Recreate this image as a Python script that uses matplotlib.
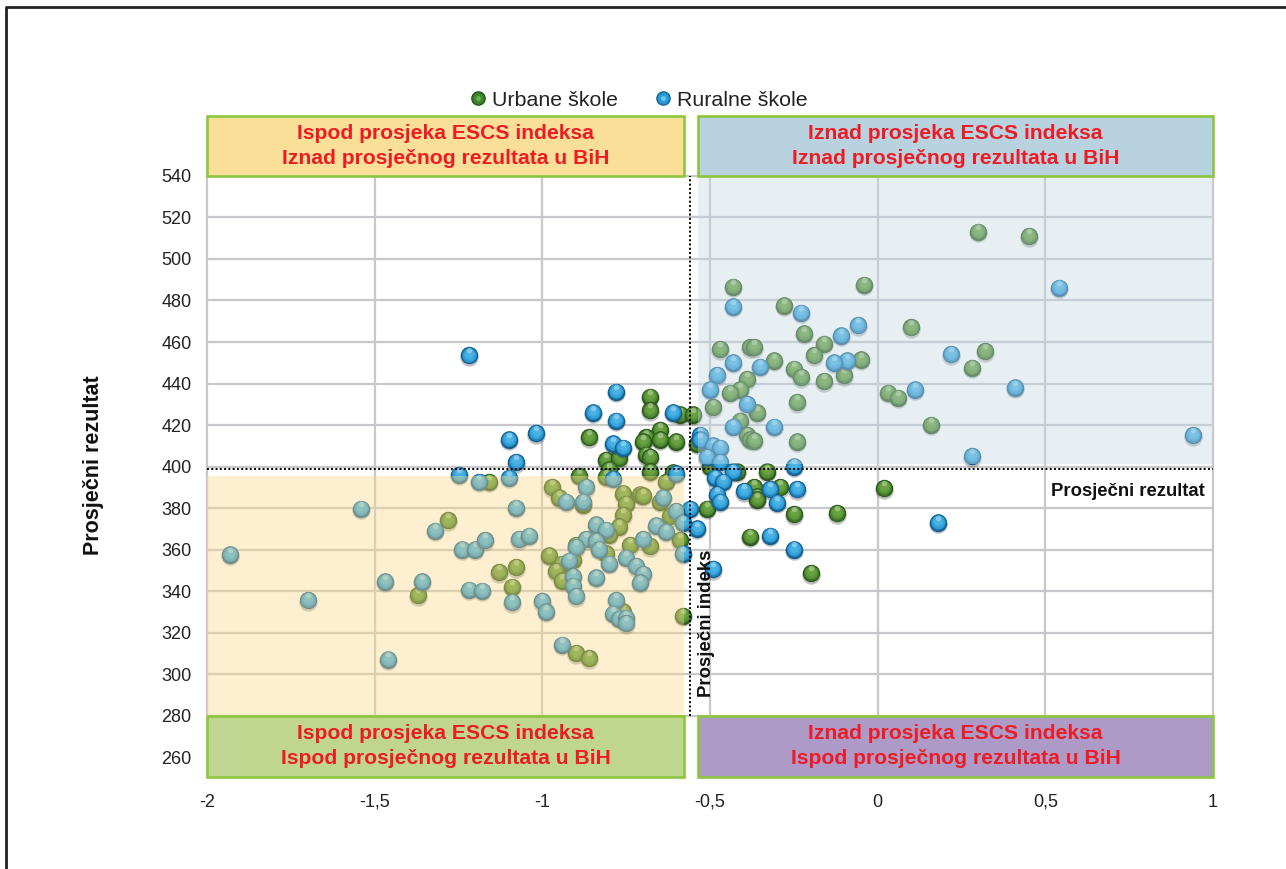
import numpy as np
import matplotlib
matplotlib.use("Agg")
import matplotlib.pyplot as plt
from matplotlib.lines import Line2D
from matplotlib.patches import Rectangle
from matplotlib.transforms import ScaledTranslation
from matplotlib.colors import to_rgb
from matplotlib.legend_handler import HandlerTuple

plt.rcParams['font.family'] = ['Liberation Sans', 'DejaVu Sans']

urban_x = [0.30,0.45,-0.04,-0.43,-0.28,0.10,-0.22,-0.16,-0.47,-0.38,-0.37,-0.31,-0.19,-0.05,0.32,0.28,-0.25,-0.23,-0.39,-0.16,-0.10,-0.41,-0.44,-0.24,0.03,0.06,-0.49,-0.36,-0.41,0.16,-0.39,-0.38,-0.37,-0.24,
 -0.68,-0.68,-0.59,-0.55,-0.65,-0.69,-0.70,-0.65,-0.60,-0.86,-0.54,-0.81,-0.77,-0.69,-0.68,-0.80,-0.68,-0.61,-0.89,-0.81,-0.50,-0.42,-0.33,-0.51,-0.37,-0.36,-0.36,-0.29,-0.25,-0.38,-0.12,0.02,-0.20,
 -1.16,-1.28,-1.13,-1.08,-1.09,-1.37,-0.97,-0.95,-0.88,-0.76,-0.75,-0.76,-0.77,-0.71,-0.70,-0.63,-0.65,-0.62,-0.59,-0.74,-0.68,-0.80,-0.90,-0.81,-0.98,-0.91,-0.94,-0.96,-0.94,-0.76,-0.58,-0.90,-0.86]
urban_y = [513,511,487.5,486.5,477.5,467,464,459,456.5,457.5,457.5,451,453.5,451.5,455.5,447.5,447,443,442,441,444,437,435.5,431,435.5,433,428.5,426,422,420,415,413,412.5,412,
 433.5,427,425,425,417.5,414,412,413,412,414,411,403,404,405.5,404.5,398.5,397.5,397,395.5,395,400,397.5,397.5,379.5,390,385.5,384,390,377,366,377.5,389.5,348.5,
 392.5,374,349,351.5,342,338,390,385,381.5,387,382,376.5,371,386.5,386,392.5,383,376,364.5,362,361.5,367,362,358,357,355,353,349.5,345,330,328,310,307.5]

rural_x = [0.94,0.54,0.41,0.28,0.22,0.11,0.18,-0.06,-0.11,-0.09,-0.13,-0.23,-0.43,-0.43,-0.48,-0.35,-0.50,-0.39,-0.31,-0.43,-0.25,
 -0.78,-0.85,-0.78,-0.61,-1.10,-1.02,-1.08,-0.79,-0.76,-0.53,-0.53,-0.49,-0.47,-0.51,-0.47,-0.43,-0.485,-0.46,-0.48,-0.47,-0.40,-0.32,-0.30,-0.24,-0.32,-0.25,-0.49,-0.56,-0.54,-0.60,
 -1.25,-1.19,-1.10,-1.08,-1.32,-1.24,-1.20,-1.17,-1.07,-1.04,-1.36,-1.22,-1.18,-1.09,-1.00,-0.99,-0.94,-0.87,-0.93,-0.88,-0.79,-0.64,-0.60,-0.58,-0.66,-0.63,-0.58,-0.84,-0.81,-0.87,-0.84,-0.90,-0.83,-0.92,-0.80,-0.75,-0.72,-0.70,-0.70,-0.71,-0.91,-0.91,-0.90,-0.84,-0.78,-0.79,-0.77,-0.75,-0.75,-1.93,-1.54,-1.70,-1.47,-1.46,-1.22]
rural_y = [415,486,438,405,454,437,373,468,463,451,450,474,477,450,444,448,437,430,419,419,400,
 436,426,422,426,413,416,402,411,409,415,413,410,409,404.5,402,397.5,394.5,392.5,386.5,383,388,389,382.5,389,366.5,360,350.5,379.5,370,396.5,
 396,392.5,394.5,380,369,360,360,364.5,365,366.5,344.5,340.5,340,334.5,335,330,314,390,383,383,394,385,378.5,373,371.5,368.5,358,372,369.5,365,364,361,360,354.5,353,356,352,365,348,344,347,342.5,337.5,346.5,335.5,329,326.5,327,324.5,357.5,379.5,335.5,344.5,307,453.5]

x_ticks = [-2,-1.5,-1,-0.5,0,0.5,1]
x_tick_labels = ['-2','-1,5','-1','-0,5','0','0,5','1']
y_ticks = list(range(260,541,20))
legend_labels = ['Urbane škole','Ruralne škole']
quadrant_titles = [
    'Ispod prosjeka ESCS indeksa\nIznad prosječnog rezultata u BiH',
    'Iznad prosjeka ESCS indeksa\nIznad prosječnog rezultata u BiH',
    'Ispod prosjeka ESCS indeksa\nIspod prosječnog rezultata u BiH',
    'Iznad prosjeka ESCS indeksa\nIspod prosječnog rezultata u BiH']
mean_escs = -0.56
mean_score = 398.7

W, H = 1286, 869
fig = plt.figure(figsize=(W/100, H/100), dpi=100)
ax = fig.add_axes([207/W, 1-777/H, (1213-207)/W, (777-116)/H])
ax.set_xlim(-2, 1)
ax.set_ylim(250.4, 568.9)
for s in ax.spines.values():
    s.set_visible(False)
ax.set_xticks(x_ticks, x_tick_labels)
ax.set_yticks(y_ticks)
ax.tick_params(length=0, labelsize=13, labelcolor='#222222')
ax.tick_params(axis='y', pad=11)
ax.tick_params(axis='x', pad=12)

GRID = '#c8c8cc'
ax.hlines([v for v in y_ticks if v >= 280], -2, 1, color=GRID, lw=1.6, zorder=1, clip_on=False)
ax.vlines(x_ticks, 280, 540, color=GRID, lw=1.6, zorder=1, clip_on=False)

def mix(a, b, t):
    a, b = np.array(to_rgb(a)), np.array(to_rgb(b))
    return tuple(a + (b-a)*t)

def spheres(xs, ys, dark, base, light, z0):
    R = 8.7*0.72  # radius in points
    for i, (x, y) in enumerate(zip(xs, ys)):
        z = z0 + i*0.001
        def blob(r, dy, c, a=1.0):
            tr = ax.transData + ScaledTranslation(0, dy/72, fig.dpi_scale_trans)
            ax.scatter([x], [y], s=(2*r)**2, color=[c], alpha=a, linewidths=0, transform=tr, zorder=z)
        blob(R*1.06, -R*0.16, '#333333', 0.3)
        blob(R, 0, dark)
        for t in np.linspace(0, 1, 6):
            r = R*(0.96-0.5*t)
            c = mix(dark, base, min(1, t*3)) if t < 0.34 else mix(base, light, (t-0.34)/0.66*0.6)
            blob(r, R*0.02 + (R-r)*0.38, c)
        blob(R*0.32, R*0.58, '#ffffff', 0.32)

spheres(urban_x, urban_y, '#2c5a1c', '#4f8c32', '#7bb04a', 3)
spheres(rural_x, rural_y, '#14608f', '#2c9cd8', '#5cc0ea', 4)

# translucent quadrant overlays above the points
ax.add_patch(Rectangle((-2, 280), (684-207)/335.33, 395.5-280, fc='#fad989', ec='none', alpha=0.4, zorder=5))
ax.add_patch(Rectangle(((698-207)/335.33-2, 401), 1-((698-207)/335.33-2), 540-401, fc='#c5d9e3', ec='none', alpha=0.4, zorder=5))

ax.plot([mean_escs, mean_escs], [280, 540], color='black', ls=(0, (1, 1.2)), lw=1.4, zorder=6)
ax.plot([-2, 1], [mean_score, mean_score], color='black', ls=(0, (1, 1.2)), lw=1.4, zorder=6)

# quadrant title boxes
xl0, xl1 = -2, (684-207)/335.33-2
xr0, xr1 = (698-207)/335.33-2, 1
boxes = [(xl0, xl1, 540, 568.9, '#f9df97', quadrant_titles[0]),
         (xr0, xr1, 540, 568.9, '#b9d2e0', quadrant_titles[1]),
         (xl0, xl1, 250.4, 280, '#c0d690', quadrant_titles[2]),
         (xr0, xr1, 250.4, 280, '#ae9ac6', quadrant_titles[3])]
for x0, x1, y0, y1, fc, txt in boxes:
    ax.add_patch(Rectangle((x0, y0), x1-x0, y1-y0, fc=fc, ec='#8cc63f', lw=1.9, zorder=7, clip_on=False))
    ax.text((x0+x1)/2, (y0+y1)/2, txt, color='#ed1c24', fontweight='bold', fontsize=15.2,
            ha='center', va='center', linespacing=1.4, zorder=8)

ax.text(1.0-0.025, 388, 'Prosječni rezultat', fontweight='bold', fontsize=13.3, ha='right', va='center', color='#111111', zorder=8)
ax.text(-0.51, 324.6, 'Prosječni indeks', fontweight='bold', fontsize=13.4, rotation=90, ha='center', va='center', color='#111111', zorder=8)
ax.set_ylabel('Prosječni rezultat', fontweight='bold', fontsize=15.5, color='#111111')
ax.yaxis.set_label_coords((104-207)/(1213-207), 1-(465-116)/(777-116))

def leg_handle(dark, base, light):
    common = dict(ls='none', marker='o', markeredgewidth=0)
    return (Line2D([], [], color=dark, markersize=10.5, **common),
            Line2D([], [], color=mix(dark, base, 0.6), markersize=9.3, **common),
            Line2D([], [], color=base, markersize=7.5, **common),
            Line2D([], [], color=light, markersize=3.5, **common))

leg = ax.legend([leg_handle('#174a12', '#3f8a2c', '#6fb050'), leg_handle('#0f5c8c', '#2c9cd8', '#6cc6ee')],
                legend_labels, handler_map={tuple: HandlerTuple(ndivide=1, pad=0)},
                ncol=2, frameon=False, fontsize=15.4, loc='center', handlelength=0.7, handletextpad=0.3,
                columnspacing=1.75, bbox_to_anchor=((639-207)/(1213-207), 1+(116-100)/(777-116)),
                labelcolor='#222222')

# page frame
fig.add_artist(Line2D([6/W, 6/W, 1], [0, 1-7/H, 1-7/H], color='#222222', lw=2, transform=fig.transFigure))

fig.savefig('out.png', dpi=100)
